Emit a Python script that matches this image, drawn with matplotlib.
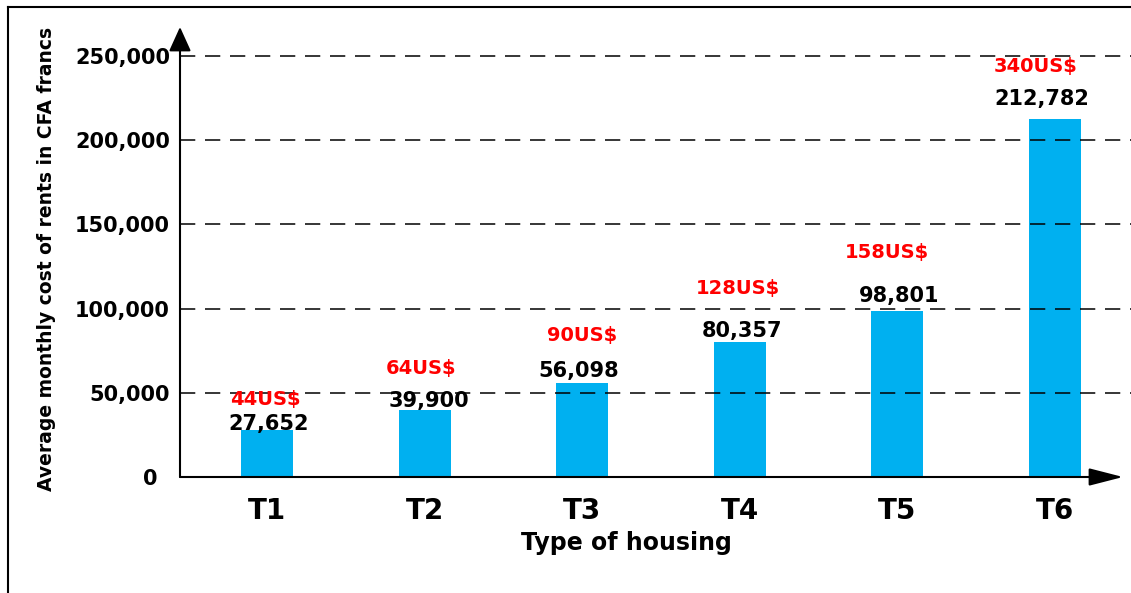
import matplotlib
matplotlib.use('Agg')
import matplotlib.pyplot as plt
from matplotlib.lines import Line2D
from matplotlib.ticker import FuncFormatter
from matplotlib.transforms import ScaledTranslation

# données
types = ['T1', 'T2', 'T3', 'T4', 'T5', 'T6']
rents_cfa = [27652, 39900, 56098, 80357, 98801, 212782]
rents_usd = ['44US$', '64US$', '90US$', '128US$', '158US$', '340US$']

# décalages des étiquettes en pixels (dx, dy) par rapport au haut des barres
cfa_offsets = [(2, 6), (4, 9), (-4, 12), (2, 11), (2, 15), (-13, 20)]
usd_offsets = [(-2, 31), (-4, 41), (0, 47), (-2, 53), (-10, 58), (-19, 52)]

plt.rcParams['font.family'] = ['DejaVu Sans']
plt.rcParams['lines.scale_dashes'] = False

W, H, DPI = 1131, 593, 100
fig = plt.figure(figsize=(W / DPI, H / DPI), dpi=DPI)
px = 72.0 / DPI  # pixels -> points

# axes placé au pixel près
left, right, bottom, top = 180, 1131, 477, 27
ax = fig.add_axes([left / W, (H - bottom) / H, (right - left) / W, (bottom - top) / H])

xpos = list(range(len(types)))
ax.bar(xpos, rents_cfa, width=0.33, color='#00B0F0', zorder=1)

ax.set_ylim(0, 50000 * (bottom - top) / 84.2)
ax.set_xlim(-87 / 157.6, (right - 267) / 157.6)
ax.set_yticks([0, 50000, 100000, 150000, 200000, 250000])
ax.yaxis.set_major_formatter(FuncFormatter(lambda v, p: f'{int(v):,}'))
ax.set_xticks(xpos)
ax.set_xticklabels(types)

ax.tick_params(axis='y', length=0, pad=10 * px, labelsize=15)
ax.tick_params(axis='x', length=0, pad=20 * px, labelsize=20)
for lab in ax.get_xticklabels() + ax.get_yticklabels():
    lab.set_fontweight('bold')
# le "0" est un peu décalé à gauche dans l'original
ylabs = ax.get_yticklabels()
ylabs[0].set_transform(ylabs[0].get_transform() +
                       ScaledTranslation(-13 / DPI, 0, fig.dpi_scale_trans))

# grille en pointillés devant les barres
ax.grid(axis='y', color='black', linewidth=1.1, linestyle=(0, (11, 7)), zorder=3)
ax.set_axisbelow(False)
ax.get_ygridlines()[0].set_visible(False)
for s in ax.spines.values():
    s.set_visible(False)

# axes avec flèches
ax.annotate('', xy=(0, 1), xytext=(0, 0), xycoords='axes fraction',
            arrowprops=dict(arrowstyle='-|>,head_length=1.5,head_width=0.68',
                            color='black', lw=1.5, shrinkA=0, shrinkB=0,
                            mutation_scale=10), annotation_clip=False, zorder=5)
ax.annotate('', xy=((1123 - left) / (right - left), 0), xytext=(0, 0),
            xycoords='axes fraction',
            arrowprops=dict(arrowstyle='-|>,head_length=2.1,head_width=0.54',
                            color='black', lw=1.5, shrinkA=0, shrinkB=0,
                            mutation_scale=10), annotation_clip=False, zorder=5)

# étiquettes de valeurs
for i, v in enumerate(rents_cfa):
    dx, dy = cfa_offsets[i]
    ax.annotate(f'{v:,}', xy=(i, v), xytext=(dx * px, dy * px),
                textcoords='offset points', ha='center', va='center',
                fontsize=15, fontweight='bold', color='black', zorder=6)
    dx, dy = usd_offsets[i]
    ax.annotate(rents_usd[i], xy=(i, v), xytext=(dx * px, dy * px),
                textcoords='offset points', ha='center', va='center',
                fontsize=14, fontweight='bold', color='#FF0000', zorder=6)

# titres des axes
fig.text(626 / W, (H - 543) / H, 'Type of housing', ha='center', va='center',
         fontsize=17, fontweight='bold')
fig.text(47 / W, (H - 259) / H, 'Average monthly cost of rents in CFA francs',
         ha='center', va='center', rotation=90, fontsize=13.5, fontweight='bold')

# cadre de la figure (gauche et haut)
fig.add_artist(Line2D([8 / W, 8 / W], [0, (H - 7) / H], color='black', lw=1.5,
                      transform=fig.transFigure))
fig.add_artist(Line2D([8 / W, 1], [(H - 7) / H, (H - 7) / H], color='black', lw=1.5,
                      transform=fig.transFigure))

fig.savefig('out.png', dpi=DPI)
